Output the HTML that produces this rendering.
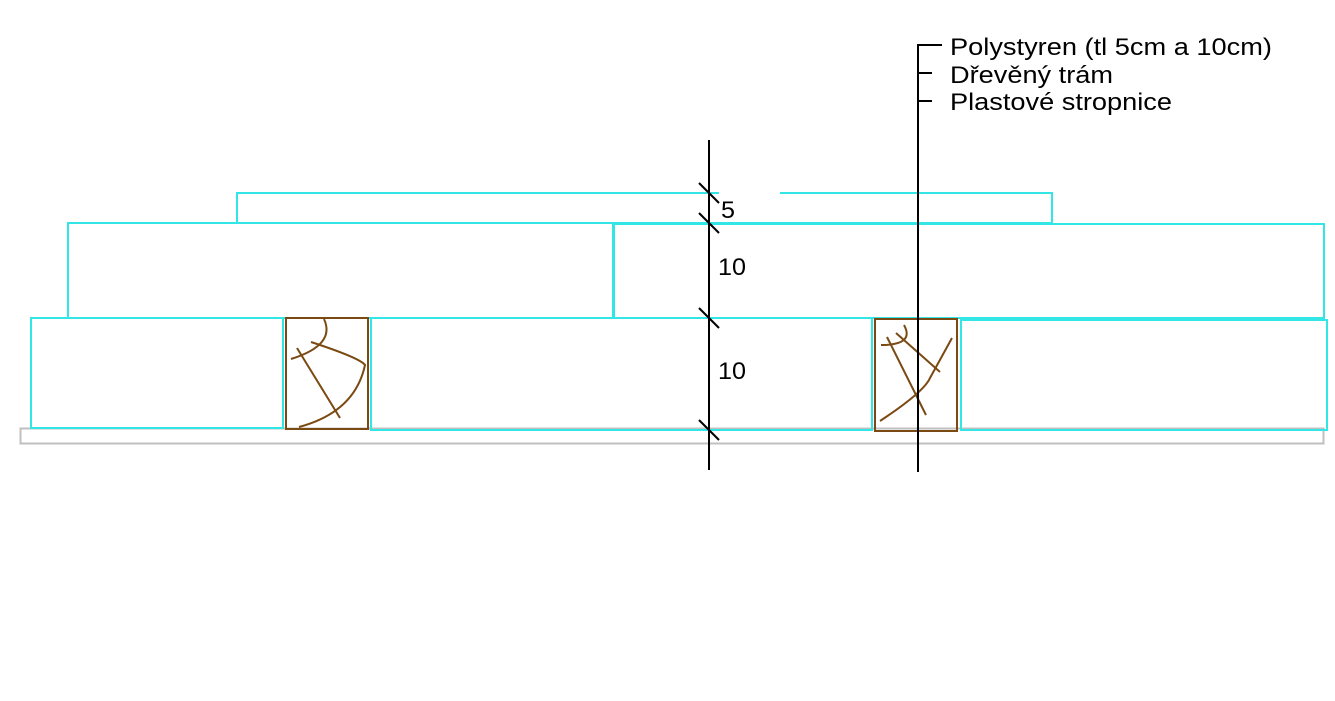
<!DOCTYPE html>
<html><head><meta charset="utf-8"><style>
html,body{margin:0;padding:0;background:#fff;}
svg{display:block;}
text{font-family:"Liberation Sans",Arial,sans-serif;}
</style></head><body>
<svg width="1335" height="701" viewBox="0 0 1335 701" xmlns="http://www.w3.org/2000/svg">
<g fill="none" stroke-width="2">
<rect x="20.5" y="428.5" width="1303" height="15" stroke="#c0c0c0"/>
<rect x="237" y="193" width="815" height="30" stroke="#33e6e6"/>
<rect x="68" y="223" width="545" height="95" stroke="#33e6e6"/>
<rect x="614" y="224" width="710" height="94" stroke="#33e6e6"/>
<rect x="31" y="318" width="252" height="110" stroke="#33e6e6"/>
<rect x="371" y="318" width="501" height="112" stroke="#33e6e6"/>
<rect x="961" y="320" width="366" height="110" stroke="#33e6e6"/>
<g stroke="#7a4a12">
<rect x="286" y="318" width="82" height="111"/>
<rect x="875" y="319" width="82" height="112"/>
<path d="M324 319 Q336 345 291 359"/>
<path d="M297 348 L340 418"/>
<path d="M311 342 Q360 358 365 365 Q355 412 299 427"/>
<path d="M904 325 Q915 345 881 345"/>
<path d="M887 337 L926 415"/>
<path d="M896 333 L940 372"/>
<path d="M952 338 L930 378 Q924 392 880 421"/>
</g>
</g>
<rect x="719" y="186" width="61" height="36" fill="#fff"/>
<g stroke="#000" stroke-width="2">
<line x1="709" y1="140" x2="709" y2="470"/>
<line x1="699" y1="183" x2="719" y2="203"/>
<line x1="699" y1="213" x2="719" y2="233"/>
<line x1="699" y1="308" x2="719" y2="328"/>
<line x1="699" y1="420" x2="719" y2="440"/>
<line x1="918" y1="44" x2="918" y2="472"/>
<line x1="917" y1="45" x2="942" y2="45"/>
<line x1="917" y1="73" x2="932" y2="73"/>
<line x1="917" y1="101" x2="932" y2="101"/>
</g>
<g font-size="24" fill="#000">
<text x="721" y="218" textLength="14" lengthAdjust="spacingAndGlyphs">5</text>
<text x="718" y="275" textLength="28" lengthAdjust="spacingAndGlyphs">10</text>
<text x="718" y="379" textLength="28" lengthAdjust="spacingAndGlyphs">10</text>
<text x="950" y="55" textLength="322" lengthAdjust="spacingAndGlyphs">Polystyren (tl 5cm a 10cm)</text>
<text x="950" y="83" textLength="163" lengthAdjust="spacingAndGlyphs">Dřevěný trám</text>
<text x="950" y="110" textLength="222" lengthAdjust="spacingAndGlyphs">Plastové stropnice</text>
</g>
</svg>
</body></html>
